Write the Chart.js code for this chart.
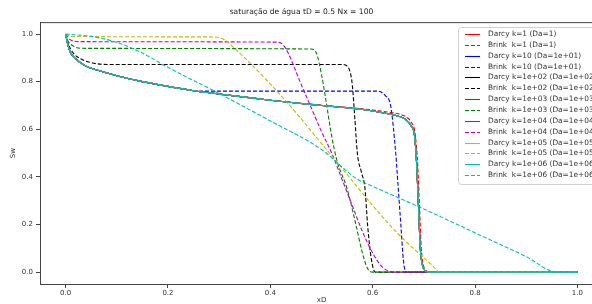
<!DOCTYPE html>
<html>
<head>
<meta charset="utf-8">
<script src="https://cdn.jsdelivr.net/npm/chart.js@4.4.0/dist/chart.umd.min.js"></script>
<style>
  body { margin: 0; overflow: hidden; background: #fff; }
  canvas { display: block; }
</style>
</head>
<body>
<canvas id="myChart" width="612" height="304"></canvas>
<script>
const xTicks = [0, 0.2, 0.4, 0.6, 0.8, 1.0];
const yTicks = [0, 0.2, 0.4, 0.6, 0.8, 1.0];

// Darcy (same curve for every k)
const darcyX = [0, 0.005, 0.01, 0.02, 0.04, 0.06, 0.1, 0.15, 0.2, 0.25, 0.3, 0.35, 0.4, 0.45, 0.5, 0.55, 0.6, 0.63, 0.65, 0.665, 0.675, 0.682, 0.686, 0.69, 0.693, 0.697, 0.703, 0.71, 1.0];
const darcyY = [1.0, 0.95, 0.92, 0.895, 0.865, 0.85, 0.825, 0.8, 0.78, 0.762, 0.748, 0.735, 0.722, 0.71, 0.7, 0.69, 0.677, 0.665, 0.655, 0.64, 0.615, 0.57, 0.45, 0.25, 0.1, 0.03, 0.005, 0, 0];

const brink1X = [0, 0.005, 0.01, 0.02, 0.04, 0.06, 0.1, 0.15, 0.2, 0.25, 0.3, 0.35, 0.4, 0.45, 0.5, 0.55, 0.6, 0.63, 0.65, 0.665, 0.675, 0.683, 0.688, 0.692, 0.695, 0.699, 0.705, 0.712, 1.0];
const brink1Y = [1.0, 0.95, 0.92, 0.895, 0.865, 0.85, 0.825, 0.8, 0.78, 0.762, 0.748, 0.735, 0.722, 0.711, 0.701, 0.692, 0.681, 0.672, 0.665, 0.652, 0.63, 0.58, 0.45, 0.25, 0.1, 0.03, 0.005, 0, 0];

const brink10X = [0, 0.005, 0.01, 0.02, 0.04, 0.06, 0.1, 0.15, 0.2, 0.25, 0.27, 0.61, 0.625, 0.635, 0.645, 0.65, 0.655, 0.66, 0.665, 1.0];
const brink10Y = [1.0, 0.95, 0.92, 0.895, 0.865, 0.85, 0.825, 0.8, 0.78, 0.763, 0.76, 0.76, 0.74, 0.7, 0.5, 0.35, 0.2, 0.05, 0, 0];

const brink1e2X = [0, 0.005, 0.015, 0.03, 0.05, 0.07, 0.1, 0.54, 0.55, 0.556, 0.56, 0.565, 0.57, 0.578, 0.585, 0.59, 0.597, 0.605, 1.0];
const brink1e2Y = [1.0, 0.96, 0.92, 0.895, 0.88, 0.873, 0.872, 0.872, 0.865, 0.84, 0.79, 0.65, 0.5, 0.42, 0.35, 0.2, 0.06, 0, 0];

const brink1e3X = [0, 0.005, 0.015, 0.03, 0.48, 0.49, 0.5, 0.508, 0.52, 0.53, 0.55, 0.565, 0.58, 0.59, 0.6, 1.0];
const brink1e3Y = [1.0, 0.97, 0.95, 0.94, 0.937, 0.92, 0.83, 0.73, 0.57, 0.47, 0.35, 0.22, 0.08, 0.015, 0, 0];

const brink1e4X = [0, 0.01, 0.03, 0.41, 0.425, 0.435, 0.445, 0.46, 0.48, 0.5, 0.52, 0.54, 0.56, 0.58, 0.6, 0.615, 0.63, 0.64, 1.0];
const brink1e4Y = [1.0, 0.975, 0.968, 0.966, 0.955, 0.92, 0.87, 0.79, 0.69, 0.59, 0.5, 0.39, 0.28, 0.17, 0.08, 0.03, 0.005, 0, 0];

const brink1e5X = [0, 0.01, 0.28, 0.3, 0.315, 0.33, 0.35, 0.4, 0.45, 0.5, 0.55, 0.6, 0.65, 0.7, 0.72, 0.73, 1.0];
const brink1e5Y = [1.0, 0.99, 0.988, 0.985, 0.97, 0.94, 0.9, 0.79, 0.67, 0.54, 0.41, 0.28, 0.16, 0.06, 0.02, 0, 0];

const brink1e6X = [0, 0.05, 0.1, 0.15, 0.2, 0.3, 0.4, 0.5, 0.57, 0.6, 0.7, 0.8, 0.9, 0.96, 1.0];
const brink1e6Y = [1.0, 0.99, 0.965, 0.92, 0.86, 0.75, 0.635, 0.515, 0.39, 0.36, 0.265, 0.165, 0.065, 0, 0];

const kLabels = ["1", "10", "1e+02", "1e+03", "1e+04", "1e+05", "1e+06"];
const daLabels = ["1", "1e+01", "1e+02", "1e+03", "1e+04", "1e+05", "1e+06"];
const colors = ["#ff0000", "#0000ff", "#000000", "#008000", "#bf00bf", "#bfbf00", "#00bfbf"];
const brinkX = [brink1X, brink10X, brink1e2X, brink1e3X, brink1e4X, brink1e5X, brink1e6X];
const brinkY = [brink1Y, brink10Y, brink1e2Y, brink1e3Y, brink1e4Y, brink1e5Y, brink1e6Y];

function pts(xs, ys) {
  return xs.map((x, i) => ({ x, y: ys[i] }));
}

const datasets = [];
kLabels.forEach((k, i) => {
  datasets.push({
    label: "Darcy k=" + k + " (Da=" + daLabels[i] + ")",
    data: pts(darcyX, darcyY),
    borderColor: colors[i],
    borderWidth: 1.1,
  });
  datasets.push({
    label: "Brink  k=" + k + " (Da=" + daLabels[i] + ")",
    data: pts(brinkX[i], brinkY[i]),
    borderColor: colors[i],
    borderWidth: 1.1,
    borderDash: [4, 2],
  });
});
datasets.forEach((d, i) => {
  d.order = -i;
  d.pointRadius = 0;
  d.fill = false;
  d.cubicInterpolationMode = "monotone";
});

const framePlugin = {
  id: "frame",
  afterDraw(chart) {
    const ctx = chart.ctx;
    const a = chart.chartArea;
    ctx.save();
    ctx.strokeStyle = "#444";
    ctx.lineWidth = 1;
    ctx.strokeRect(a.left + 0.5, a.top + 0.5, a.right - a.left, a.bottom - a.top);

    // legend box, upper right
    const lx = 458, ly = 27, lw = 190, lh = 157;
    ctx.beginPath();
    ctx.roundRect(lx + 0.5, ly + 0.5, lw, lh, 3);
    ctx.fillStyle = "rgba(255,255,255,0.8)";
    ctx.fill();
    ctx.strokeStyle = "#d0d0d0";
    ctx.stroke();
    ctx.font = "7.4px 'DejaVu Sans'";
    ctx.textBaseline = "middle";
    chart.data.datasets.forEach((d, i) => {
      const y = Math.round(34 + i * 10.85) + 0.5;
      ctx.strokeStyle = d.borderColor;
      ctx.lineWidth = 1.1;
      ctx.setLineDash(d.borderDash || []);
      ctx.beginPath();
      ctx.moveTo(465, y);
      ctx.lineTo(480, y);
      ctx.stroke();
      ctx.setLineDash([]);
      ctx.fillStyle = "#333";
      ctx.fillText(d.label, 488, y);
    });
    ctx.restore();
  },
};

const tickFont = { family: "'DejaVu Sans'", size: 7 };

const ctx = document.getElementById("myChart").getContext("2d");
const myChart = new Chart(ctx, {
  type: "line",
  data: { datasets },
  options: {
    responsive: false,
    animation: false,
    layout: { padding: { left: 0, right: 9, top: 0, bottom: 0 } },
    plugins: {
      legend: { display: false },
      tooltip: { enabled: false },
      title: {
        display: true,
        text: "saturação de água tD = 0.5 Nx = 100",
        color: "#222",
        font: { family: "'DejaVu Sans'", size: 7.6, weight: "normal" },
        padding: { top: 7, bottom: 6 },
      },
    },
    scales: {
      x: {
        type: "linear",
        min: -0.05,
        max: 1.05,
        afterBuildTicks: (s) => { s.ticks = xTicks.map((v) => ({ value: v })); },
        afterFit: (s) => { s.height = 20; },
        ticks: {
          font: tickFont,
          color: "#333",
          padding: 1,
          maxRotation: 0,
          callback: (v) => v.toFixed(1),
        },
        grid: { display: true, drawOnChartArea: false, drawTicks: true, tickLength: 4, color: "#444" },
        border: { display: true, color: "#444" },
        title: { display: true, text: "xD", color: "#333", font: tickFont, padding: { top: 1, bottom: 0 } },
      },
      y: {
        type: "linear",
        min: -0.05,
        max: 1.05,
        afterBuildTicks: (s) => { s.ticks = yTicks.map((v) => ({ value: v })); },
        afterFit: (s) => { s.width = 40; },
        ticks: {
          font: tickFont,
          color: "#333",
          padding: 3,
          callback: (v) => v.toFixed(1),
        },
        grid: { display: true, drawOnChartArea: false, drawTicks: true, tickLength: 4, color: "#444" },
        border: { display: true, color: "#444" },
        title: { display: true, text: "Sw", color: "#333", font: tickFont, padding: { top: 9, bottom: 0 } },
      },
    },
  },
  plugins: [framePlugin],
});
</script>
</body>
</html>
